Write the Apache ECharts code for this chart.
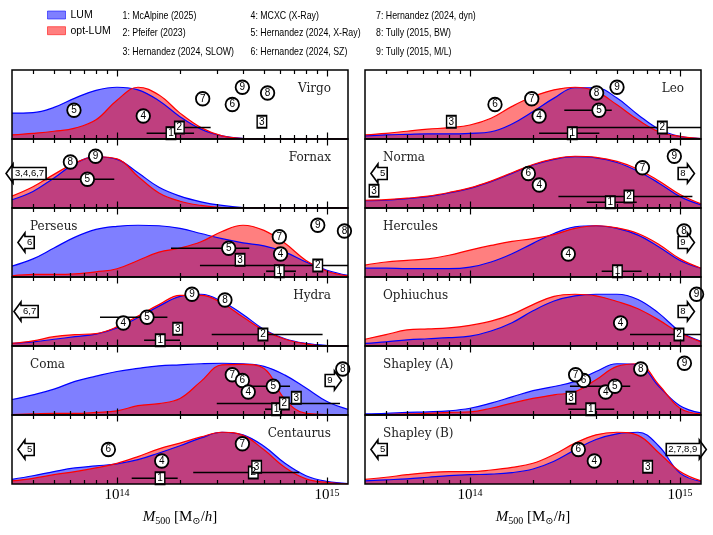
<!DOCTYPE html>
<html><head><meta charset="utf-8">
<script src="https://cdn.jsdelivr.net/npm/echarts@6/dist/echarts.min.js"></script>
<style>html,body{margin:0;padding:0;background:#fff}#c{width:713px;height:535px}</style>
</head><body><div id="c"></div>
<script>
// ---------------- DATA ----------------
// sample grid: log10(M500 / (Msun/h))
const logMass = [13.5,13.6,13.7,13.8,13.9,14.0,14.1,14.2,14.3,14.4,14.5,14.6,14.7,14.8,14.9,15.0,15.1];

// normalised densities (peak = 1)
const virgoLUM = [.50,.51,.61,.79,.94,1.0,.95,.74,.43,.19,.06,.01,0,0,0,0,0];
const virgoOpt = [.08,.11,.15,.21,.37,.75,1.0,.85,.50,.22,.06,.01,0,0,0,0,0];
const fornaxLUM = [.16,.32,.58,.86,.99,.94,.68,.40,.23,.12,.05,.01,0,0,0,0,0];
const fornaxOpt = [.23,.41,.65,.87,.99,.95,.61,.29,.13,.05,.01,0,0,0,0,0,0];
const perseusLUM = [.21,.35,.56,.77,.92,.98,1.0,.99,.94,.84,.74,.66,.60,.48,.29,.13,.03];
const perseusOpt = [.02,.05,.05,.06,.10,.16,.32,.48,.56,.68,.88,1.0,.90,.65,.32,.11,.02];
const hydraLUM = [.05,.08,.13,.18,.23,.35,.55,.77,.96,1.0,.86,.61,.32,.14,.05,.01,0];
const hydraOpt = [.05,.10,.18,.22,.24,.37,.58,.80,.98,.98,.83,.56,.30,.13,.04,0,0];
const comaLUM = [.30,.39,.50,.65,.75,.84,.90,.95,.97,.99,1.0,.99,.94,.77,.52,.26,.11];
const comaOpt = [.01,.02,.03,.03,.05,.08,.18,.22,.32,.65,.97,.98,.90,.30,.03,.01,0];
const centaurusLUM = [.09,.16,.24,.31,.35,.39,.47,.60,.74,.89,1.0,.95,.73,.40,.16,.05,.01];
const centaurusOpt = [.06,.11,.18,.24,.31,.40,.53,.68,.79,.91,1.0,.94,.66,.32,.10,.03,0];
const leoLUM = [.06,.08,.09,.10,.10,.11,.14,.29,.53,.79,.99,.99,.79,.47,.19,.05,.01];
const leoOpt = [.08,.11,.15,.19,.22,.27,.40,.63,.82,.95,1.0,.92,.66,.37,.14,.05,.01];
const normaLUM = [.14,.15,.18,.22,.29,.38,.51,.67,.83,.94,.99,.97,.88,.71,.48,.22,.06];
const normaOpt = [.15,.16,.19,.23,.30,.39,.52,.68,.84,.95,1.0,.98,.90,.75,.52,.26,.08];
const herculesLUM = [.17,.17,.16,.16,.16,.19,.29,.45,.65,.84,.97,.99,.94,.81,.58,.32,.17];
const herculesOpt = [.23,.29,.32,.35,.42,.52,.61,.69,.74,.82,.94,.99,.95,.84,.63,.35,.17];
const ophiuchusLUM = [.05,.08,.12,.14,.16,.19,.29,.45,.68,.87,.97,1.0,1.0,.90,.63,.28,.09];
const ophiuchusOpt = [.13,.22,.31,.33,.35,.40,.48,.61,.80,.96,1.0,.97,.86,.72,.50,.25,.08];
const shapleyALUM = [.02,.03,.05,.06,.08,.13,.23,.35,.47,.55,.65,.84,.99,.97,.55,.18,.04];
const shapleyAOpt = [.01,.01,.02,.03,.05,.06,.13,.23,.32,.39,.45,.68,.94,.99,.58,.13,.02];
const shapleyBLUM = [.06,.08,.10,.13,.16,.18,.19,.22,.29,.44,.66,.86,.97,1.0,.73,.21,.05];
const shapleyBOpt = [.09,.13,.18,.22,.24,.24,.27,.32,.40,.57,.79,.95,1.0,.94,.60,.24,.06];

// literature estimates: [source number, 'c' circle | 's' square, log10 M, lo, hi]
const virgoMarks = [[5,'c',13.795],[4,'c',14.125],[7,'c',14.408],[6,'c',14.549],[9,'c',14.597],[8,'c',14.717],[3,'s',14.690],[1,'s',14.257,14.141,14.367],[2,'s',14.297,14.237,14.446]];
const fornaxMarks = [[8,'c',13.778],[9,'c',13.898],[5,'c',13.859,13.45,13.987]];
const perseusMarks = [[9,'c',14.956],[8,'c',15.083],[7,'c',14.773],[4,'c',14.779],[5,'c',14.532,14.257,14.630],[3,'s',14.586],[2,'s',14.956,14.395,15.2],[1,'s',14.773,14.710,14.852]];
const hydraMarks = [[9,'c',14.357],[8,'c',14.514],[5,'c',14.143,13.919,14.240],[4,'c',14.030],[3,'s',14.289],[1,'s',14.206,14.129,14.300],[2,'s',14.695,14.451,14.979]];
const comaMarks = [[7,'c',14.549],[6,'c',14.597],[4,'c',14.625],[5,'c',14.744,14.633,14.824],[1,'s',14.760,14.705,14.80],[2,'s',14.797,14.475,15.062],[3,'s',14.854],[8,'c',15.075]];
const centaurusMarks = [[7,'c',14.597],[6,'c',13.959],[4,'c',14.213],[1,'s',14.205,14.070,14.289],[2,'s',14.649,14.363,14.868],[3,'s',14.665]];
const leoMarks = [[9,'c',14.700],[8,'c',14.603],[7,'c',14.294],[6,'c',14.119],[4,'c',14.329],[5,'c',14.614,14.449,14.675],[3,'s',13.911],[2,'s',14.916,14.468,15.2],[1,'s',14.487,14.329,14.616]];
const normaMarks = [[9,'c',14.973],[7,'c',14.821],[6,'c',14.278],[4,'c',14.330],[2,'s',14.757,14.421,15.059],[1,'s',14.668,14.556,14.794],[3,'s',13.543]];
const herculesMarks = [[4,'c',14.468],[1,'s',14.702,14.627,14.817],[8,'c',15.019]];
const ophiuchusMarks = [[9,'c',15.079],[4,'c',14.717],[2,'s',14.995,14.762,15.2]];
const shapleyAMarks = [[9,'c',15.021],[8,'c',14.813],[6,'c',14.541],[7,'c',14.503],[4,'c',14.646],[5,'c',14.690,14.476,14.763],[3,'s',14.481],[1,'s',14.575,14.468,14.687]];
const shapleyBMarks = [[6,'c',14.516],[4,'c',14.592],[3,'s',14.846]];

// off-scale estimates: [labels, direction]
const fornaxArrows = [['3,4,6,7','L']];
const perseusArrows = [['6','L']];
const hydraArrows = [['6,7','L']];
const comaArrows = [['9','R']];
const centaurusArrows = [['5','L']];
const normaArrows = [['5','L'],['8','R']];
const herculesArrows = [['9','R']];
const ophiuchusArrows = [['8','R']];
const shapleyBArrows = [['5','L'],['2,7,8,9','R']];

const sourceNames = ['1: McAlpine (2025)','2: Pfeifer (2023)','3: Hernandez (2024, SLOW)',
  '4: MCXC (X-Ray)','5: Hernandez (2024, X-Ray)','6: Hernandez (2024, SZ)',
  '7: Hernandez (2024, dyn)','8: Tully (2015, BW)','9: Tully (2015, M/L)'];
const majorTicks = [14, 15];
const minorTicks = [4,5,6,7,8,9].map(m => Math.log10(m * 1e13)).concat([2,3,4,5,6,7,8,9].map(m => Math.log10(m * 1e14)));

// ---------------- LAYOUT ----------------
const panels = [
  {name:'Virgo', col:0, row:0, side:'right', lum:virgoLUM, opt:virgoOpt, marks:virgoMarks, arrows:[]},
  {name:'Fornax', col:0, row:1, side:'right', lum:fornaxLUM, opt:fornaxOpt, marks:fornaxMarks, arrows:fornaxArrows},
  {name:'Perseus', col:0, row:2, side:'left', lum:perseusLUM, opt:perseusOpt, marks:perseusMarks, arrows:perseusArrows},
  {name:'Hydra', col:0, row:3, side:'right', lum:hydraLUM, opt:hydraOpt, marks:hydraMarks, arrows:hydraArrows},
  {name:'Coma', col:0, row:4, side:'left', lum:comaLUM, opt:comaOpt, marks:comaMarks, arrows:comaArrows},
  {name:'Centaurus', col:0, row:5, side:'right', lum:centaurusLUM, opt:centaurusOpt, marks:centaurusMarks, arrows:centaurusArrows},
  {name:'Leo', col:1, row:0, side:'right', lum:leoLUM, opt:leoOpt, marks:leoMarks, arrows:[]},
  {name:'Norma', col:1, row:1, side:'left', lum:normaLUM, opt:normaOpt, marks:normaMarks, arrows:normaArrows},
  {name:'Hercules', col:1, row:2, side:'left', lum:herculesLUM, opt:herculesOpt, marks:herculesMarks, arrows:herculesArrows},
  {name:'Ophiuchus', col:1, row:3, side:'left', lum:ophiuchusLUM, opt:ophiuchusOpt, marks:ophiuchusMarks, arrows:ophiuchusArrows},
  {name:'Shapley (A)', col:1, row:4, side:'left', lum:shapleyALUM, opt:shapleyAOpt, marks:shapleyAMarks, arrows:[]},
  {name:'Shapley (B)', col:1, row:5, side:'left', lum:shapleyBLUM, opt:shapleyBOpt, marks:shapleyBMarks, arrows:shapleyBArrows}
];
const X_MIN = 13.5, X_MAX = 15.1, Y_MAX = 4/3;
const colLeft = [12, 365], colW = 336, top0 = 70, rowH = 69;
const ARROW_X = {L: 13.567, R: 15.03}, ARROW_Y = 6/9;

const measure = (() => { const c = document.createElement('canvas').getContext('2d'); return (t, f) => { c.font = f; return c.measureText(t).width; }; })();
const ARROW_FONT = '9.5px "Liberation Sans"';

const grids = [], xAxes = [], yAxes = [], series = [], graphics = [];
const serif = '"Liberation Serif", "DejaVu Serif", serif';

panels.forEach((p, i) => {
  const left = colLeft[p.col], top = top0 + p.row * rowH;
  grids.push({left: left, top: top, width: colW, height: rowH, show: true, borderColor: '#000', borderWidth: 1.5, backgroundColor: 'transparent', z: 6});
  const isBottom = p.row === 5;
  const mk = (pos, vals, len, lab) => {
    const ax = {gridIndex: i, type: 'value', min: X_MIN, max: X_MAX, position: pos, z: 10,
      axisLine: {show: false}, splitLine: {show: false},
      axisTick: {show: true, inside: true, length: len, customValues: vals, lineStyle: {color: '#000', width: 1.2}},
      axisLabel: {show: false}};
    if (lab) {
      ax.axisLabel = {show: true, customValues: majorTicks, margin: 4,
        formatter: v => '{n|10}{s|' + Math.round(v) + '}',
        rich: {n: {fontFamily: serif, fontSize: 15, lineHeight: 15, color: '#000'},
               s: {fontFamily: serif, fontSize: 10, lineHeight: 10, verticalAlign: 'top', color: '#000'}}};
      ax.name = '{i|M}{sub|500} [M{sub|\u2299}/{i|h}]';
      ax.nameLocation = 'middle';
      ax.nameGap = 24;
      ax.nameTextStyle = {fontFamily: serif, fontSize: 15, color: '#000',
        rich: {i: {fontFamily: serif, fontStyle: 'italic', fontSize: 15, lineHeight: 18, color: '#000'},
               sub: {fontFamily: serif, fontSize: 10, lineHeight: 12, verticalAlign: 'bottom', color: '#000'}}};
    }
    return ax;
  };
  const xi = xAxes.length;
  xAxes.push(mk('bottom', majorTicks, 6.5, isBottom));
  xAxes.push(mk('bottom', minorTicks, 4, false));
  xAxes.push(mk('top', majorTicks, 6.5, false));
  xAxes.push(mk('top', minorTicks, 4, false));
  yAxes.push({gridIndex: i, type: 'value', min: 0, max: Y_MAX, show: false});

  const common = {type: 'line', xAxisIndex: xi, yAxisIndex: i, smooth: 0.4, symbol: 'none', silent: true, animation: false, z: 2};
  series.push(Object.assign({}, common, {name: 'LUM', data: logMass.map((x, j) => [x, p.lum[j]]),
    lineStyle: {color: '#0000ff', width: 1.2}, itemStyle: {color: '#0000ff'}, areaStyle: {color: 'rgba(0,0,255,0.5)', opacity: 1}}));
  series.push(Object.assign({}, common, {name: 'opt-LUM', data: logMass.map((x, j) => [x, p.opt[j]]),
    lineStyle: {color: '#ff0000', width: 1.2}, itemStyle: {color: '#ff0000'}, areaStyle: {color: 'rgba(255,0,0,0.5)', opacity: 1}}));

  const bars = p.marks.filter(m => m.length > 3).map(m => [m[3], m[4], m[0] / 9]);
  if (bars.length) series.push({type: 'custom', xAxisIndex: xi, yAxisIndex: i, z: 3, clip: true, silent: true, animation: false,
    data: bars, encode: {x: [0, 1], y: 2},
    renderItem: (params, api) => {
      const a = api.coord([api.value(0), api.value(2)]), b = api.coord([api.value(1), api.value(2)]);
      return {type: 'line', shape: {x1: a[0], y1: a[1], x2: b[0], y2: b[1]}, style: {stroke: '#000', lineWidth: 1.7}};
    }});

  series.push({type: 'scatter', xAxisIndex: xi, yAxisIndex: i, z: 4, silent: true, animation: false, clip: false,
    label: {show: true, position: 'inside', fontSize: 10, fontFamily: '"Liberation Sans", sans-serif', color: '#000'},
    data: p.marks.map(m => ({
      value: [m[2], m[0] / 9],
      symbol: m[1] === 'c' ? 'circle' : 'rect',
      symbolSize: m[1] === 'c' ? 13.5 : [9.5, 12],
      itemStyle: m[1] === 'c' ? {color: '#fff', opacity: 1, borderColor: '#000', borderWidth: 1.8}
        : {color: '#fff', opacity: 1, borderColor: '#000', borderWidth: 1.6},
      label: {formatter: String(m[0])}
    }))});

  if (p.arrows.length) series.push({type: 'custom', xAxisIndex: xi, yAxisIndex: i, z: 5, clip: false, silent: true, animation: false,
    data: p.arrows.map(a => [ARROW_X[a[1]], ARROW_Y]),
    renderItem: (params, api) => {
      const a = p.arrows[params.dataIndex];
      const c = api.coord([api.value(0), api.value(1)]);
      const tw = measure(a[0], ARROW_FONT), bw = tw + 4, hd = 7, tot = bw + hd;
      const x0 = c[0] - tot / 2, cy = c[1];
      let pts, tx;
      if (a[1] === 'L') {
        pts = [[x0, cy], [x0 + hd, cy - 9.5], [x0 + hd, cy - 6], [x0 + tot, cy - 6], [x0 + tot, cy + 6], [x0 + hd, cy + 6], [x0 + hd, cy + 9.5]];
        tx = x0 + hd + bw / 2;
      } else {
        pts = [[x0 + tot, cy], [x0 + bw, cy - 9.5], [x0 + bw, cy - 6], [x0, cy - 6], [x0, cy + 6], [x0 + bw, cy + 6], [x0 + bw, cy + 9.5]];
        tx = x0 + bw / 2;
      }
      return {type: 'group', children: [
        {type: 'polygon', shape: {points: pts}, style: {fill: '#fff', stroke: '#000', lineWidth: 1.6}},
        {type: 'text', x: tx, y: cy, style: {text: a[0], font: ARROW_FONT, fill: '#000', align: 'center', verticalAlign: 'middle'}}
      ]};
    }});

  // panel title
  const ty = top + 19;
  graphics.push({type: 'text', x: p.side === 'right' ? left + colW - 17 : left + 18, y: ty, silent: true,
    style: {text: p.name, font: '12px "DejaVu Serif", serif', fill: '#222', align: p.side, verticalAlign: 'middle'}});
});

// numbered source list
const listX = [122.5, 250.5, 376], listY = [15.5, 33.3, 51.5];
sourceNames.forEach((t, k) => {
  graphics.push({type: 'text', x: listX[Math.floor(k / 3)], y: listY[k % 3], scaleX: 0.8, silent: true,
    style: {text: t, font: '11px "Liberation Sans", sans-serif', fill: '#000', align: 'left', verticalAlign: 'middle'}});
});

const chart = echarts.init(document.getElementById('c'), null, {renderer: 'canvas', width: 713, height: 535});
chart.setOption({
  animation: false,
  backgroundColor: '#fff',
  legend: {orient: 'vertical', left: 47, top: 9.5, padding: 0, itemWidth: 18, itemHeight: 8, itemGap: 4.7, icon: 'rect',
    selectedMode: false,
    textStyle: {fontSize: 10.5, fontFamily: '"Liberation Sans", sans-serif', color: '#000'},
    data: [{name: 'LUM', itemStyle: {color: 'rgba(0,0,255,0.5)', borderColor: 'rgba(0,0,255,0.55)', borderWidth: 1}},
           {name: 'opt-LUM', itemStyle: {color: 'rgba(255,0,0,0.5)', borderColor: 'rgba(255,0,0,0.55)', borderWidth: 1}}]},
  grid: grids, xAxis: xAxes, yAxis: yAxes, series: series, graphic: graphics
});
</script></body></html>
